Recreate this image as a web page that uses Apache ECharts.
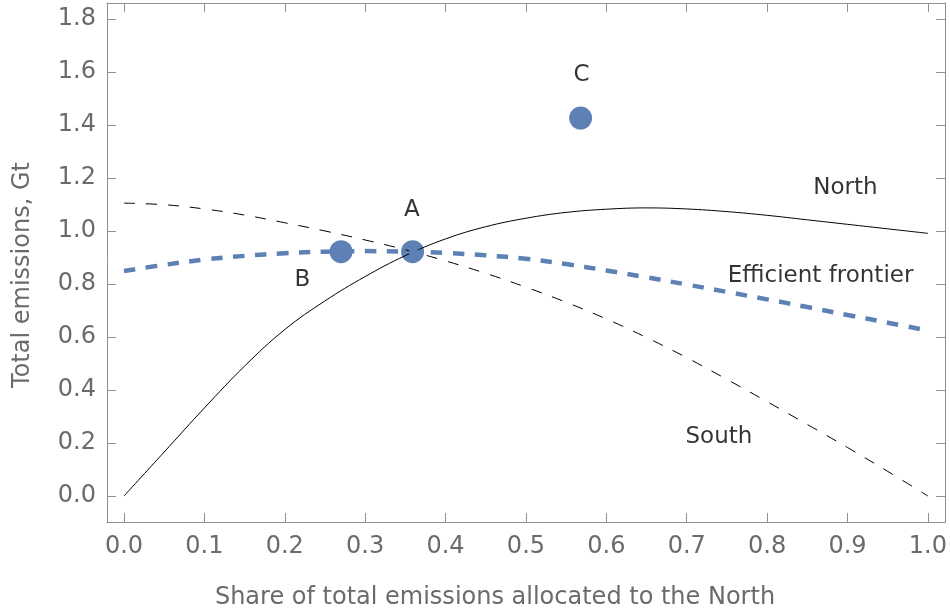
<!DOCTYPE html>
<html>
<head>
<meta charset="utf-8">
<title>Total emissions</title>
<script src="https://cdn.jsdelivr.net/npm/echarts@6/dist/echarts.min.js"></script>
<style>
  html, body { margin: 0; padding: 0; background: #fff; }
  #chart { width: 950px; height: 616px; }
</style>
</head>
<body>
<div id="chart"></div>
<script>
// share of total emissions allocated to the North (x)
const shareX = [0, 0.05, 0.1, 0.15, 0.2, 0.25, 0.3, 0.35, 0.4, 0.45, 0.5,
  0.55, 0.6, 0.65, 0.7, 0.75, 0.8, 0.85, 0.9, 0.95, 1.0];
// total emissions, Gt
const northY = [0, 0.166, 0.332, 0.490, 0.628, 0.736, 0.828, 0.907, 0.970, 1.016, 1.048,
  1.070, 1.082, 1.087, 1.083, 1.073, 1.059, 1.042, 1.025, 1.008, 0.991];
const southY = [1.105, 1.099, 1.083, 1.060, 1.031, 1.000, 0.966, 0.929, 0.887, 0.840, 0.788,
  0.731, 0.668, 0.598, 0.522, 0.440, 0.356, 0.270, 0.183, 0.093, 0.0];
const frontierY = [0.849, 0.872, 0.892, 0.906, 0.916, 0.922, 0.924, 0.922, 0.917, 0.908, 0.895,
  0.875, 0.851, 0.825, 0.798, 0.770, 0.742, 0.713, 0.683, 0.654, 0.624];

// marked allocations
const pointNames = ["A", "B", "C"];
const pointX = [0.359, 0.27, 0.568];
const pointY = [0.922, 0.922, 1.426];

// text annotations (data coordinates)
const noteText = ["C", "A", "B", "North", "Efficient frontier", "South"];
const noteX = [0.569, 0.358, 0.222, 0.8975, 0.8665, 0.740];
const noteY = [1.589, 1.079, 0.815, 1.162, 0.830, 0.223];

const xTicks = [0, 0.1, 0.2, 0.3, 0.4, 0.5, 0.6, 0.7, 0.8, 0.9, 1.0];
const yTicks = [0, 0.2, 0.4, 0.6, 0.8, 1.0, 1.2, 1.4, 1.6, 1.8];

const FONT = "DejaVu Sans";
const GRAY = "#6b6b6b";
const FRAME = "#8f8f8f";
const BLUE = "#5e81b5";

function pairs(xs, ys) {
  return xs.map((x, i) => [x, ys[i]]);
}

// one side of the frame box, ticks pointing inward
function frameAxis(kind, pos, ticks, min, max, labels) {
  return {
    type: "value",
    position: pos,
    min: min,
    max: max,
    splitLine: { show: false },
    axisLine: { show: true, onZero: false, lineStyle: { color: FRAME, width: 1 } },
    axisTick: {
      show: true, inside: true, length: 9, customValues: ticks,
      lineStyle: { color: FRAME, width: 1 }
    },
    axisLabel: {
      show: labels, customValues: ticks,
      margin: kind === "x" ? 13 : 11,
      color: GRAY, fontFamily: FONT, fontSize: 24,
      formatter: v => v.toFixed(1)
    }
  };
}

function draw(id, option) {
  let chart = echarts.init(document.getElementById(id), null, { renderer: "canvas" });
  chart.setOption(option);
}

draw("chart", {
  animation: false,
  grid: { left: 107, right: 2, top: 3, bottom: 94 },
  xAxis: [
    frameAxis("x", "bottom", xTicks, -0.0211, 1.0214, true),
    frameAxis("x", "top", xTicks, -0.0211, 1.0214, false)
  ],
  yAxis: [
    frameAxis("y", "left", yTicks, -0.098, 1.860, true),
    frameAxis("y", "right", yTicks, -0.098, 1.860, false)
  ],
  graphic: [
    {
      type: "text", x: 23, y: 275, rotation: Math.PI / 2,
      style: {
        text: "Total emissions, Gt", fill: GRAY, font: "24px " + FONT,
        align: "center", verticalAlign: "middle"
      }
    },
    {
      type: "text", x: 495, y: 598,
      style: {
        text: "Share of total emissions allocated to the North", fill: GRAY,
        font: "24px " + FONT, align: "center", verticalAlign: "middle"
      }
    }
  ],
  series: [
    {
      name: "South", type: "line", smooth: 0.4, symbol: "none", silent: true,
      data: pairs(shareX, southY),
      lineStyle: { color: "#000", width: 1, type: [11, 11] }
    },
    {
      name: "North", type: "line", smooth: 0.4, symbol: "none", silent: true,
      data: pairs(shareX, northY),
      lineStyle: { color: "#000", width: 1 }
    },
    {
      name: "Efficient frontier", type: "line", smooth: 0.4, symbol: "none", silent: true,
      data: pairs(shareX, frontierY),
      lineStyle: { color: BLUE, width: 4.5, type: [11.5, 10.5], cap: "butt" }
    },
    {
      name: "points", type: "scatter", symbolSize: 23, silent: true,
      itemStyle: { color: BLUE, opacity: 1 },
      data: pointX.map((x, i) => ({ name: pointNames[i], value: [x, pointY[i]] }))
    },
    {
      name: "notes", type: "scatter", symbolSize: 1, silent: true,
      itemStyle: { color: "rgba(0,0,0,0)" },
      label: {
        show: true, position: "inside", formatter: p => p.name,
        color: "#000", fontFamily: FONT, fontSize: 23
      },
      data: noteX.map((x, i) => ({ name: noteText[i], value: [x, noteY[i]] }))
    }
  ]
});
</script>
</body>
</html>
